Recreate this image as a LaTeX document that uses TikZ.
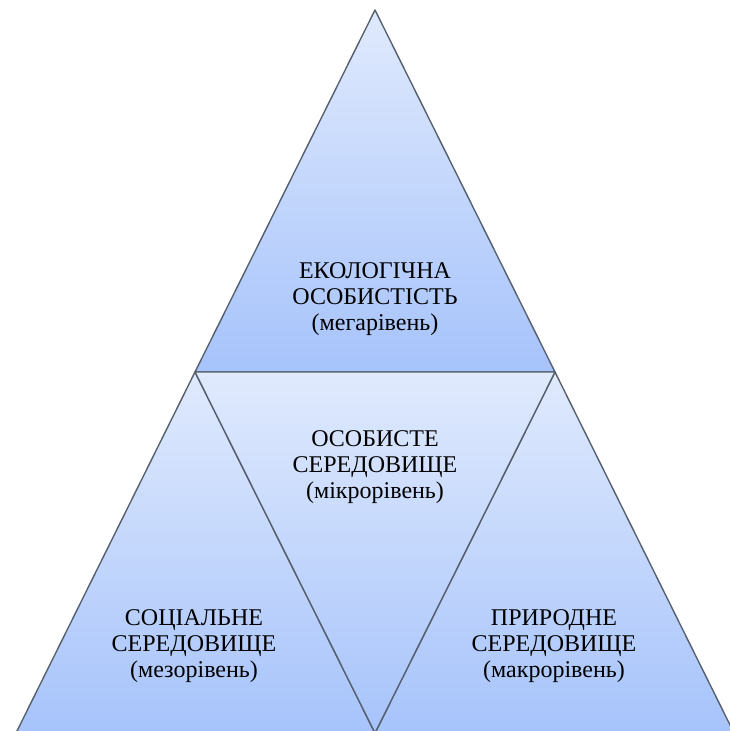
\documentclass[tikz,border=0pt]{standalone}
\usepackage{fontspec}
\setmainfont{Liberation Serif}
\begin{document}
\begin{tikzpicture}[x=1pt,y=-1pt,
  tri/.style={draw=edgegray, line width=1.4pt, line join=round},
  lbl/.style={align=center, font=\rmfamily\fontsize{24}{26}\selectfont, text=black, inner sep=0pt}]
\definecolor{edgegray}{HTML}{56606E}
\definecolor{lightblue}{HTML}{E0EAFD}
\definecolor{darkblue}{HTML}{A6C3FB}
\path[use as bounding box, clip] (0,0) rectangle (730,731);
\coordinate (A) at (375,10);
\coordinate (L) at (195,372);
\coordinate (R) at (555,372);
\coordinate (BL) at (16,733);
\coordinate (BM) at (375,733);
\coordinate (BR) at (734,733);
% top triangle
\shade[top color=lightblue, bottom color=darkblue] (A) -- (L) -- (R) -- cycle;
\draw[tri] (A) -- (L) -- (R) -- cycle;
% left bottom triangle
\shade[top color=lightblue, bottom color=darkblue] (L) -- (BL) -- (BM) -- cycle;
\draw[tri] (L) -- (BL) -- (BM) -- cycle;
% right bottom triangle
\shade[top color=lightblue, bottom color=darkblue] (R) -- (BM) -- (BR) -- cycle;
\draw[tri] (R) -- (BM) -- (BR) -- cycle;
% middle inverted triangle
\shade[top color=lightblue, bottom color=darkblue] (L) -- (R) -- (BM) -- cycle;
\draw[tri] (L) -- (R) -- (BM) -- cycle;
% labels
\node[lbl] (top) at (375,299) {ЕКОЛОГІЧНА\\ОСОБИСТІСТЬ\\(мегарівень)};
\node[lbl] (mid) at (375,467) {ОСОБИСТЕ\\СЕРЕДОВИЩЕ\\(мікрорівень)};
\node[lbl] (left) at (194,646) {СОЦІАЛЬНЕ\\СЕРЕДОВИЩЕ\\(мезорівень)};
\node[lbl] (right) at (554,646) {ПРИРОДНЕ\\СЕРЕДОВИЩЕ\\(макрорівень)};
\end{tikzpicture}
\end{document}
